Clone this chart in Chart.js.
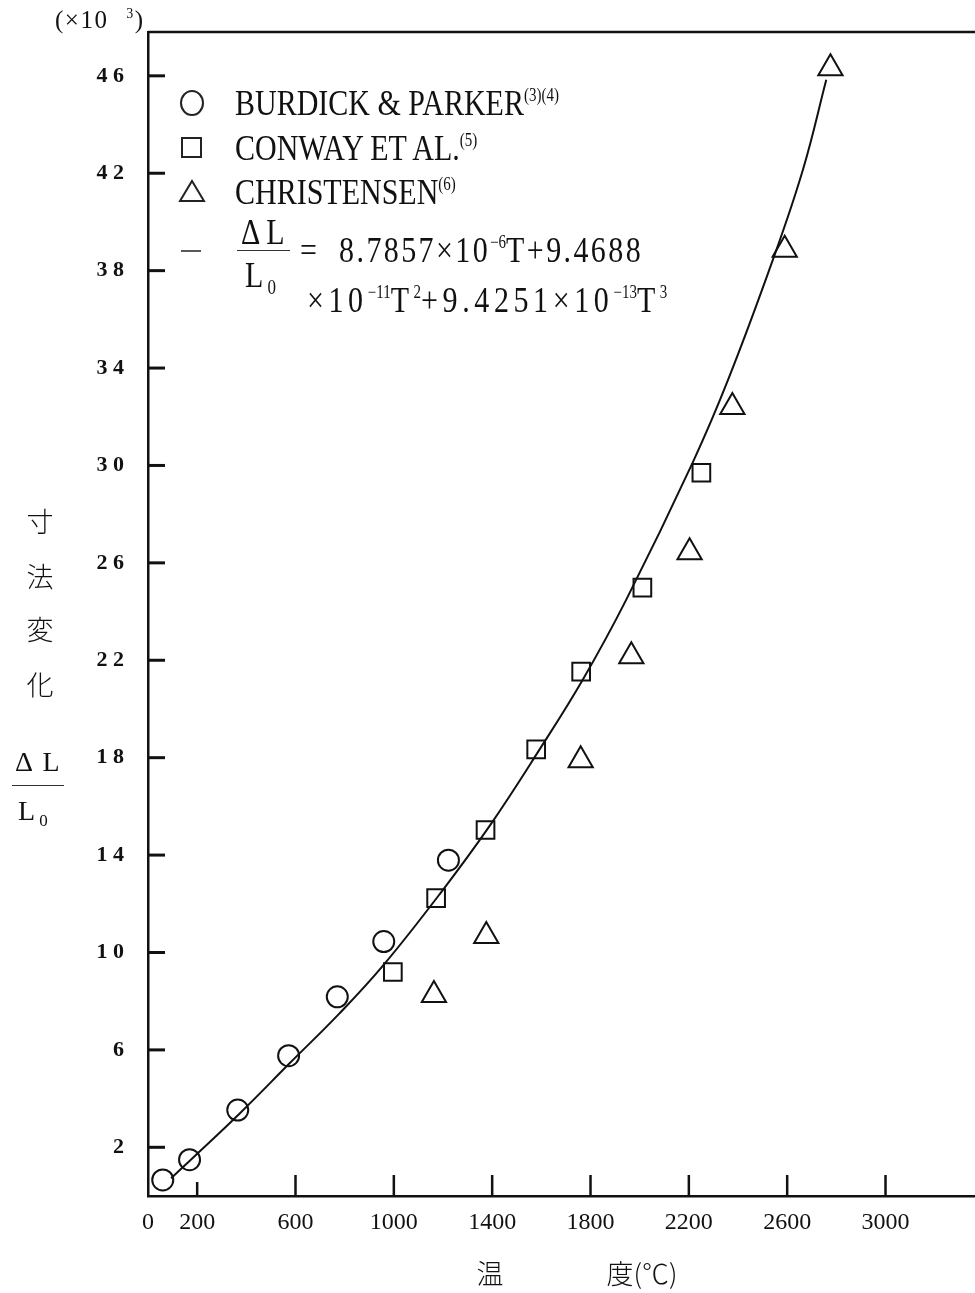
<!DOCTYPE html>
<html>
<head>
<meta charset="utf-8">
<script src="https://cdn.jsdelivr.net/npm/chart.js@4/dist/chart.umd.min.js"></script>
<style>
  body { margin: 0; background: #fff; }
  #wrap { position: relative; width: 975px; height: 1293px; overflow: hidden; }
  #myChart { position: absolute; left: 0; top: 0; }
  .t { position: absolute; font-family: "Liberation Serif", serif; color: #111; white-space: nowrap; line-height: 1; }
  .leg { font-size: 30px; transform: translateY(-50%) scaleY(1.2); transform-origin: left center; }
  .leg sup { font-size: 15px; vertical-align: 12px; }
  .eq sup { letter-spacing: 0; }
  .cjk { font-family: "Noto Sans CJK JP", sans-serif; font-weight: 300; font-size: 27px; transform: translate(-50%, -50%); }
  .bar { position: absolute; height: 1px; background: #333; }
</style>
</head>
<body>
<div id="wrap">
  <canvas id="myChart" width="975" height="1293"></canvas>

  <div class="t" style="left:55px;top:7px;font-size:25px;letter-spacing:1.5px;">(×10 <sup style="font-size:14px;vertical-align:10px;">&nbsp;&nbsp;3</sup>)</div>

  <div class="t leg" style="left:235px;top:103px;">BURDICK &amp; PARKER<sup>(3)(4)</sup></div>
  <div class="t leg" style="left:235px;top:148px;">CONWAY ET AL.<sup>(5)</sup></div>
  <div class="t leg" style="left:235px;top:192px;">CHRISTENSEN<sup>(6)</sup></div>
  <div class="t leg" style="left:241px;top:232px;">Δ L</div>
  <div class="bar" style="left:237px;top:250px;width:53px;"></div>
  <div class="t leg" style="left:245px;top:277px;">L<sub style="font-size:17px;vertical-align:-6px;"> 0</sub></div>
  <div class="t leg eq" style="left:300px;top:250px;letter-spacing:2.4px;">= &nbsp;8.7857×10<sup>−6</sup>T+9.4688</div>
  <div class="t leg eq" style="left:307px;top:300px;letter-spacing:4.6px;">×10<sup>−11</sup>T<sup>2</sup>+9.4251×10<sup>−13</sup>T<sup>3</sup></div>

  <div class="t cjk" style="left:40px;top:520px;">寸</div>
  <div class="t cjk" style="left:40px;top:575px;">法</div>
  <div class="t cjk" style="left:40px;top:628px;">変</div>
  <div class="t cjk" style="left:40px;top:683px;">化</div>
  <div class="t" style="left:15px;top:748px;font-size:28px;letter-spacing:2px;">Δ L</div>
  <div class="bar" style="left:12px;top:785px;width:52px;"></div>
  <div class="t" style="left:18px;top:797px;font-size:28px;">L<sub style="font-size:17px;vertical-align:-6px;"> 0</sub></div>

  <div class="t cjk" style="left:490px;top:1272px;">温</div>
  <div class="t cjk" style="left:642px;top:1272px;">度(℃)</div>
</div>

<script>
// x axis ticks (temperature, degC) and y axis ticks (dL/L0 x10^-3)
var xTicks = [0, 200, 600, 1000, 1400, 1800, 2200, 2600, 3000]
var yTicks = [2, 6, 10, 14, 18, 22, 26, 30, 34, 38, 42, 46]

// BURDICK & PARKER (circles)
var burdickT = [60, 169, 365, 572, 770, 959, 1222]
var burdickV = [0.66, 1.49, 3.53, 5.76, 8.18, 10.45, 13.79]

// CONWAY ET AL. (squares)
var conwayT = [996, 1172, 1373, 1579, 1762, 2011, 2251]
var conwayV = [9.20, 12.23, 15.03, 18.34, 21.53, 24.98, 29.70]

// CHRISTENSEN (triangles)
var christT = [1163, 1376, 1760, 1966, 2203, 2377, 2590, 2776]
var christV = [8.25, 10.68, 17.89, 22.17, 26.44, 32.40, 38.86, 46.31]

// fitted curve
var fitT = [94, 169, 372, 576, 779, 955, 1186, 1389, 1593, 1769, 1946, 2217, 2359, 2542, 2664, 2759]
var fitV = [0.73, 1.44, 3.38, 5.45, 7.50, 9.45, 12.39, 15.19, 18.34, 21.21, 24.50, 30.15, 33.50, 38.45, 42.14, 45.84]

function pts(xs, ys) {
    var out = []
    for (var i = 0; i < xs.length; i++) out.push({x: xs[i], y: ys[i]})
    return out
}

// frame top line, inward tick marks and legend symbols
var framePlugin = {
    id: 'frame',
    afterDraw: function(chart) {
        var ctx = chart.ctx
        var a = chart.chartArea
        var xs = chart.scales.x
        var ys = chart.scales.y
        ctx.save()
        ctx.strokeStyle = '#111'
        ctx.lineWidth = 2.5
        ctx.beginPath()
        ctx.moveTo(a.left, a.top)
        ctx.lineTo(a.right, a.top)
        ctx.stroke()

        ctx.lineWidth = 3
        yTicks.forEach(function(v) {
            var py = ys.getPixelForValue(v)
            ctx.beginPath()
            ctx.moveTo(a.left, py)
            ctx.lineTo(a.left + 17, py)
            ctx.stroke()
        })
        ctx.lineWidth = 2.5
        xTicks.forEach(function(v) {
            if (v === 0) return
            var px = xs.getPixelForValue(v)
            ctx.beginPath()
            ctx.moveTo(px, a.bottom)
            ctx.lineTo(px, a.bottom - (v === 200 ? 14 : 21))
            ctx.stroke()
        })

        // legend symbols
        ctx.lineWidth = 2
        ctx.strokeStyle = '#222'
        ctx.beginPath()
        ctx.ellipse(192, 103, 11, 12, 0, 0, Math.PI * 2)
        ctx.stroke()
        ctx.strokeRect(182, 138, 19, 19)
        ctx.beginPath()
        ctx.moveTo(192, 181)
        ctx.lineTo(204, 201)
        ctx.lineTo(180, 201)
        ctx.closePath()
        ctx.stroke()
        ctx.lineWidth = 1.5
        ctx.beginPath()
        ctx.moveTo(181, 251)
        ctx.lineTo(201, 251)
        ctx.stroke()
        ctx.restore()
    }
}

var myChart = document.getElementById("myChart").getContext('2d')
var chart = new Chart(myChart, {
    type: 'scatter',
    data: {
        datasets: [
            {
                label: 'fit',
                data: pts(fitT, fitV),
                showLine: true,
                borderColor: '#111',
                borderWidth: 2,
                pointRadius: 0,
                tension: 0.4,
                order: 4
            },
            {
                label: 'BURDICK & PARKER',
                data: pts(burdickT, burdickV),
                pointStyle: 'circle',
                pointRadius: 10.5,
                borderColor: '#111',
                borderWidth: 2,
                backgroundColor: 'rgba(0,0,0,0)'
            },
            {
                label: 'CONWAY ET AL.',
                data: pts(conwayT, conwayV),
                pointStyle: 'rect',
                pointRadius: 12.5,
                borderColor: '#111',
                borderWidth: 2,
                backgroundColor: 'rgba(0,0,0,0)'
            },
            {
                label: 'CHRISTENSEN',
                data: pts(christT, christV),
                pointStyle: 'triangle',
                pointRadius: 14,
                borderColor: '#111',
                borderWidth: 2,
                backgroundColor: 'rgba(0,0,0,0)'
            }
        ]
    },
    options: {
        responsive: false,
        animation: false,
        layout: { autoPadding: false, padding: { top: 32, right: 0, left: 0, bottom: 0 } },
        plugins: { legend: { display: false }, tooltip: { enabled: false } },
        scales: {
            x: {
                type: 'linear',
                min: 0,
                max: 3364,
                afterBuildTicks: function(s) { s.ticks = xTicks.map(function(v) { return {value: v} }) },
                afterFit: function(s) {
                    s.height = 97
                    s.paddingLeft = 0
                    s.paddingRight = 0
                },
                grid: { display: false, drawTicks: false },
                border: { display: true, color: '#111', width: 2.5 },
                ticks: {
                    autoSkip: false,
                    maxRotation: 0,
                    padding: 12,
                    color: '#111',
                    font: { family: 'Liberation Serif', size: 24 },
                    callback: function(v) { return String(v) }
                }
            },
            y: {
                type: 'linear',
                min: 0,
                max: 47.8,
                afterBuildTicks: function(s) { s.ticks = yTicks.map(function(v) { return {value: v} }) },
                afterFit: function(s) {
                    s.width = 148
                    s.paddingTop = 0
                    s.paddingBottom = 0
                },
                grid: { display: false, drawTicks: false },
                border: { display: true, color: '#111', width: 2.5 },
                ticks: {
                    autoSkip: false,
                    padding: 24,
                    color: '#111',
                    font: { family: 'Liberation Serif', size: 22, weight: 'bold' },
                    callback: function(v) { return String(v).split('').join(' ') }
                }
            }
        }
    },
    plugins: [framePlugin]
})
</script>
</body>
</html>
